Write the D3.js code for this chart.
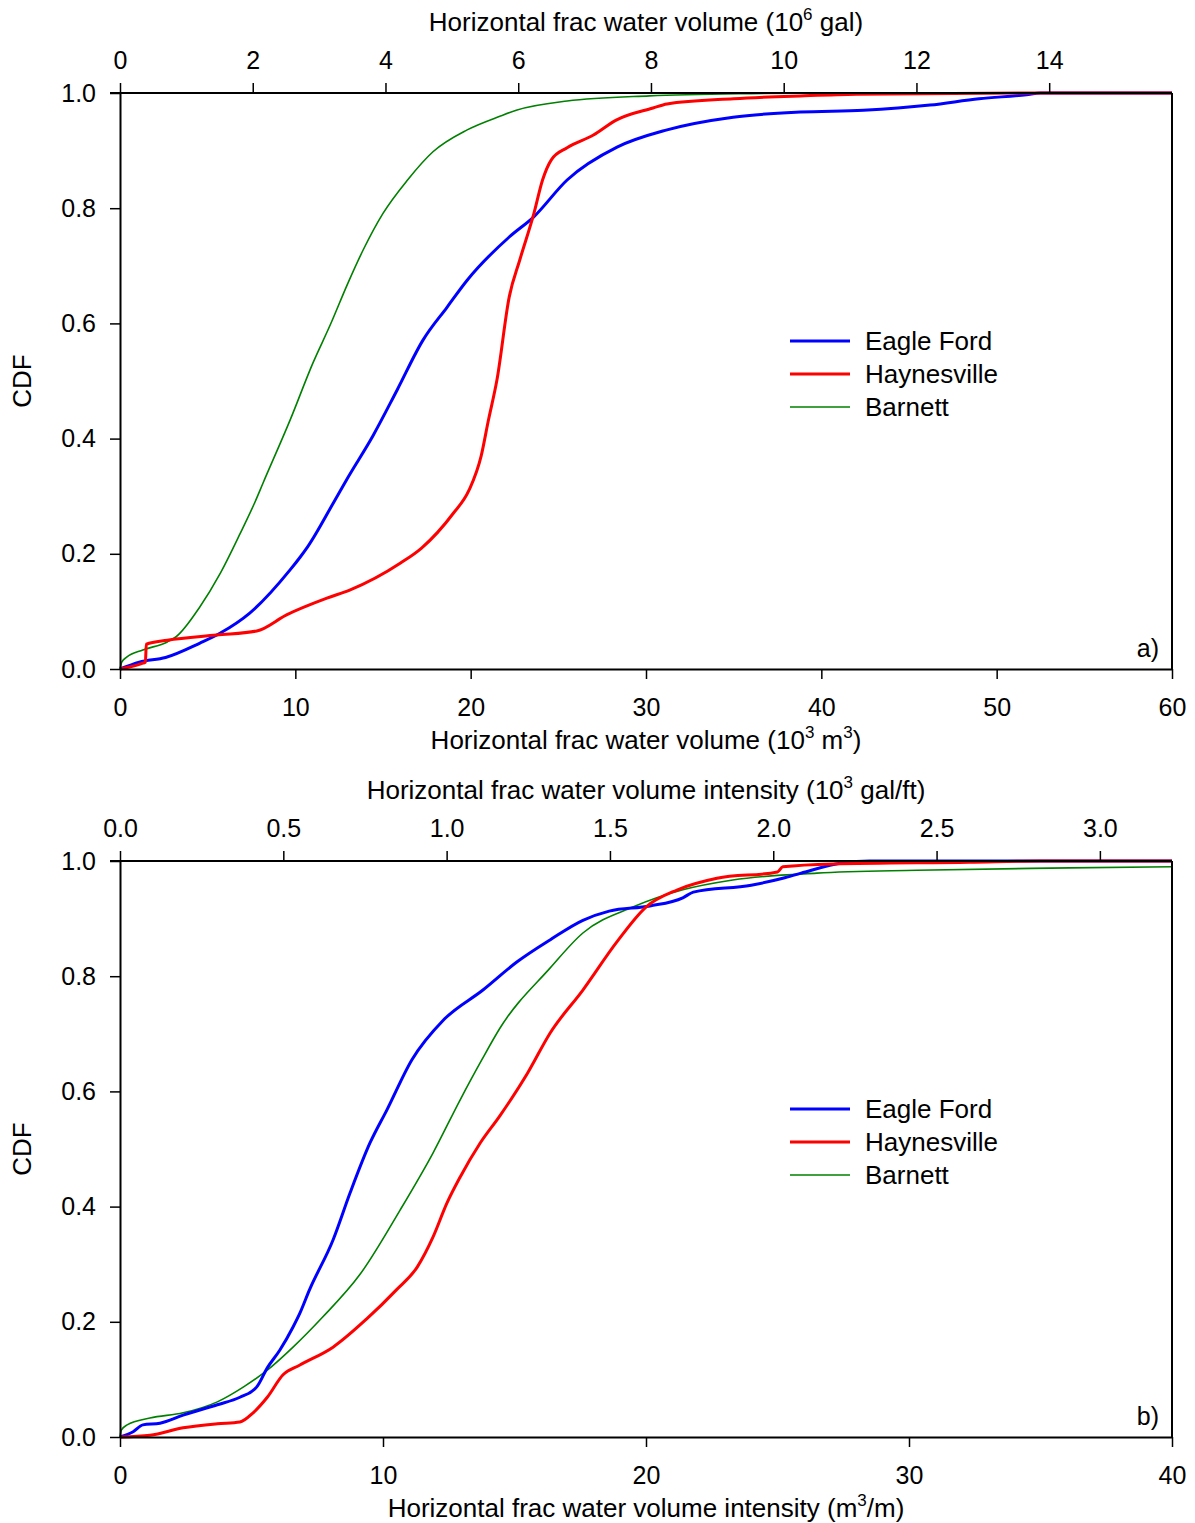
<!DOCTYPE html>
<html>
<head>
<meta charset="utf-8">
<script src="https://cdn.jsdelivr.net/npm/d3@7"></script>
<style>
  body { margin: 0; background: #fff; }
  svg text { font-family: Arial, "Liberation Sans", sans-serif; fill: #000; }
</style>
</head>
<body>
<div id="chart"></div>
<script>
// Corbes CDF llegides de la figura: [volum, CDF]
// Panell a) volum (10^3 m3)
const aEagleFord = [[0,0],[1.1,0.012],[2.6,0.02],[4.56,0.045],[5.7,0.062],[7.4,0.097],[9.7,0.172],[10.27,0.194],
  [10.7,0.212],[12.2,0.29],[12.95,0.33],[14.43,0.405],[15.8,0.484],[17.28,0.571],[18.65,0.628],[19.8,0.675],
  [22.2,0.75],[23.6,0.785],[25.5,0.849],[28.35,0.906],[31.2,0.936],[34.97,0.958],[38.8,0.967],[42.4,0.97],
  [46.2,0.979],[49.0,0.99],[51.7,0.997],[52.5,1],[60,1]];
const aHaynesville = [[0,0],[1.3,0.01],[1.45,0.012],[1.5,0.043],[2.7,0.05],[5.5,0.059],[7.8,0.066],[9.5,0.094],
  [11.8,0.123],[13.1,0.137],[16.0,0.184],[17.2,0.21],[19.0,0.27],[19.9,0.31],[20.6,0.37],[21.0,0.43],
  [21.5,0.502],[22.2,0.646],[22.8,0.71],[23.6,0.79],[24.1,0.849],[24.6,0.884],[25.5,0.905],[27.0,0.927],
  [28.3,0.953],[30.4,0.974],[31.2,0.981],[35.0,0.99],[38.8,0.995],[42,0.998],[52,1],[60,1]];
const aBarnett = [[0,0],[0.1,0.012],[0.4,0.021],[1.3,0.033],[2.7,0.047],[3.2,0.056],[4.56,0.108],[5.7,0.165],
  [6.85,0.235],[7.7,0.29],[8.16,0.323],[9.7,0.432],[11.0,0.531],[12.0,0.598],[13.0,0.67],[13.86,0.727],
  [15.0,0.791],[16.4,0.849],[17.85,0.898],[19.8,0.936],[21.7,0.96],[22.6,0.97],[25.5,0.986],[30.2,0.995],
  [36,0.999],[40,1],[60,1]];

// Panell b) intensitat (m3/m)
const bEagleFord = [[0,0],[0.5,0.009],[0.87,0.021],[1.52,0.024],[2.4,0.038],[3.7,0.056],[4.56,0.069],[5.2,0.087],
  [5.6,0.12],[6.08,0.151],[6.58,0.191],[6.84,0.215],[7.2,0.255],[8.1,0.342],[8.75,0.424],[9.5,0.51],
  [10.15,0.568],[11.1,0.655],[12.3,0.724],[13.8,0.776],[15.1,0.825],[16.35,0.863],[17.6,0.897],[18.6,0.913],
  [20.15,0.922],[21.4,0.936],[21.8,0.946],[24.0,0.958],[25.2,0.97],[25.9,0.979],[27.5,0.997],[28.5,1],[40,1]];
const bHaynesville = [[0,0],[1.14,0.003],[2.4,0.016],[3.7,0.023],[4.56,0.026],[5.06,0.042],[5.6,0.069],[6.2,0.108],
  [6.84,0.125],[8.1,0.156],[9.38,0.205],[10.5,0.255],[11.3,0.295],[11.9,0.347],[12.43,0.406],[12.93,0.451],
  [13.69,0.51],[14.45,0.558],[15.5,0.632],[16.35,0.701],[17.6,0.776],[18.9,0.86],[20.0,0.92],[21.2,0.95],
  [22.7,0.97],[25.0,0.981],[25.2,0.99],[27.1,0.995],[32.3,0.998],[35,1],[40,1]];
const bBarnett = [[0,0],[0.05,0.012],[0.27,0.021],[1.14,0.033],[2.4,0.042],[3.7,0.061],[4.7,0.087],[5.6,0.116],
  [6.58,0.156],[7.68,0.207],[9.12,0.282],[10.65,0.394],[11.9,0.493],[12.93,0.585],[13.76,0.655],[14.45,0.71],
  [16.35,0.814],[17.6,0.875],[19.5,0.92],[21.4,0.95],[23.3,0.967],[26.5,0.979],[30.3,0.984],[36.1,0.988],[40,0.99]];

const seriesNames = ['Eagle Ford', 'Haynesville', 'Barnett'];
const seriesColors = ['#0000ff', '#ff0000', '#008000'];
const seriesWidths = [3, 3, 1.6];

const yTicks = [0, 0.2, 0.4, 0.6, 0.8, 1.0];
const aBottomTicks = [0, 10, 20, 30, 40, 50, 60];
const aTopTicks = [0, 2, 4, 6, 8, 10, 12, 14];
const bBottomTicks = [0, 10, 20, 30, 40];
const bTopTicks = [0, 0.5, 1.0, 1.5, 2.0, 2.5, 3.0];

// conversions d'unitats per a l'eix superior
const M3_TO_GAL = 264.172;
const M_TO_FT = 3.28084;

const svg = d3.select('#chart').append('svg')
    .attr('width', 1195)
    .attr('height', 1523);

// rètol amb superíndexs: parts = [[text, sup?], ...]
function richText(sel, parts) {
    let up = false;
    parts.forEach(p => {
        const t = sel.append('tspan').text(p[0]);
        if (p[1]) { t.attr('dy', -11).style('font-size', '17px'); up = true; }
        else if (up) { t.attr('dy', 11); up = false; }
    });
}

function drawPanel(opts) {
    const left = 120, right = 1172;
    const top = opts.top, bottom = opts.top + 576;

    const x = d3.scaleLinear().domain([0, opts.xMax]).range([left, right]);
    const xTop = d3.scaleLinear().domain([0, opts.xMax * opts.topFactor]).range([left, right]);
    const y = d3.scaleLinear().domain([0, 1]).range([bottom, top]);

    const g = svg.append('g');

    // corbes
    const line = d3.line()
        .x(d => x(d[0]))
        .y(d => y(d[1]))
        .curve(d3.curveMonotoneX);

    const order = [2, 0, 1];
    order.forEach(i => {
        g.append('path')
            .datum(opts.data[i])
            .attr('fill', 'none')
            .attr('stroke', seriesColors[i])
            .attr('stroke-width', seriesWidths[i])
            .attr('stroke-linejoin', 'round')
            .attr('d', line);
    });

    // eixos
    const axB = g.append('g')
        .attr('transform', `translate(0,${bottom})`)
        .call(d3.axisBottom(x).tickValues(opts.bottomTicks).tickSize(10).tickSizeOuter(0).tickFormat(d3.format('d')));
    const axT = g.append('g')
        .attr('transform', `translate(0,${top})`)
        .call(d3.axisTop(xTop).tickValues(opts.topTicks).tickSize(10).tickSizeOuter(0).tickFormat(opts.topFormat));
    const axL = g.append('g')
        .attr('transform', `translate(${left},0)`)
        .call(d3.axisLeft(y).tickValues(yTicks).tickSize(10).tickSizeOuter(0).tickFormat(d3.format('.1f')));

    [axB, axT, axL].forEach(a => {
        a.selectAll('path.domain').attr('stroke', '#000').attr('stroke-width', 2);
        a.selectAll('.tick line').attr('stroke', '#000').attr('stroke-width', 1.5);
        a.selectAll('.tick text').style('font-size', '25px').style('font-family', 'Arial, "Liberation Sans", sans-serif');
    });
    axB.selectAll('.tick text').attr('dy', '0.71em').attr('y', 29);
    axT.selectAll('.tick text').attr('y', -24);
    axL.selectAll('.tick text').attr('x', -24);
    axT.select('path.domain').attr('d', `M${left - 10},0H${right}`);

    g.append('line')
        .attr('x1', right).attr('x2', right)
        .attr('y1', top).attr('y2', bottom)
        .attr('stroke', '#000').attr('stroke-width', 2);

    // títols d'eixos
    richText(g.append('text')
        .attr('x', (left + right) / 2).attr('y', top - 62)
        .attr('text-anchor', 'middle').style('font-size', '26px'), opts.topLabel);
    richText(g.append('text')
        .attr('x', (left + right) / 2).attr('y', bottom + 80)
        .attr('text-anchor', 'middle').style('font-size', '26px'), opts.bottomLabel);
    g.append('text')
        .attr('transform', `translate(31,${(top + bottom) / 2}) rotate(-90)`)
        .attr('text-anchor', 'middle')
        .style('font-size', '26px')
        .text('CDF');

    g.append('text')
        .attr('x', 1159).attr('y', bottom - 12)
        .attr('text-anchor', 'end')
        .style('font-size', '25px')
        .text(opts.tag);

    // llegenda
    const leg = g.append('g').attr('transform', `translate(790,${top + 248})`);
    seriesNames.forEach((name, i) => {
        leg.append('line')
            .attr('x1', 0).attr('x2', 60)
            .attr('y1', i * 33).attr('y2', i * 33)
            .attr('stroke', seriesColors[i])
            .attr('stroke-width', seriesWidths[i]);
        leg.append('text')
            .attr('x', 75).attr('y', i * 33 + 9)
            .style('font-size', '26px')
            .text(name);
    });
}

drawPanel({
    top: 93,
    xMax: 60,
    topFactor: M3_TO_GAL / 1000,
    data: [aEagleFord, aHaynesville, aBarnett],
    bottomTicks: aBottomTicks,
    topTicks: aTopTicks,
    topFormat: d3.format('d'),
    topLabel: [['Horizontal frac water volume (10'], ['6', true], [' gal)']],
    bottomLabel: [['Horizontal frac water volume (10'], ['3', true], [' m'], ['3', true], [')']],
    tag: 'a)'
});

drawPanel({
    top: 861,
    xMax: 40,
    topFactor: M3_TO_GAL / M_TO_FT / 1000,
    data: [bEagleFord, bHaynesville, bBarnett],
    bottomTicks: bBottomTicks,
    topTicks: bTopTicks,
    topFormat: d3.format('.1f'),
    topLabel: [['Horizontal frac water volume intensity (10'], ['3', true], [' gal/ft)']],
    bottomLabel: [['Horizontal frac water volume intensity (m'], ['3', true], ['/m)']],
    tag: 'b)'
});
</script>
</body>
</html>
